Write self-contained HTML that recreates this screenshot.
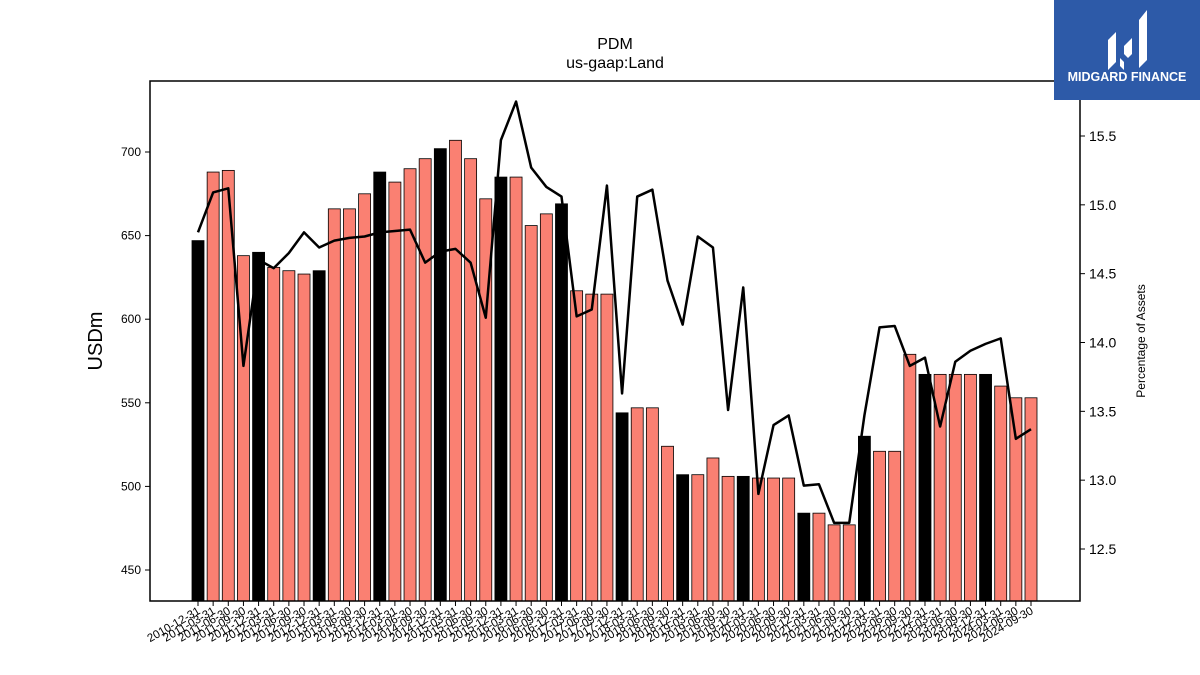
<!DOCTYPE html>
<html><head><meta charset="utf-8"><style>
body{margin:0;background:#fff;width:1200px;height:675px;overflow:hidden;font-family:"Liberation Sans","DejaVu Sans",sans-serif}
svg{position:absolute;left:0;top:0}
</style></head><body>
<svg id="chart" width="1200" height="675" xmlns="http://www.w3.org/2000/svg" font-family="Liberation Sans, DejaVu Sans, sans-serif">
<text x="615" y="49" font-size="16" text-anchor="middle">PDM</text>
<text x="615" y="68" font-size="16" text-anchor="middle">us-gaap:Land</text>
<g id="bars"></g>
<g id="line"></g>
<rect x="150" y="81" width="930" height="520" fill="none" stroke="#000" stroke-width="1.5"/>
<g id="yl"></g>
<g id="yr"></g>
<g id="xa"></g>
<text transform="translate(102,341) rotate(-90)" font-size="20" text-anchor="middle">USDm</text>
<text transform="translate(1145,341) rotate(-90)" font-size="12" text-anchor="middle">Percentage of Assets</text>
<g>
<rect x="1054" y="0" width="146" height="100" fill="#2d5aa8"/>
<path d="M1108 40 l8 -8 v30 l-8 8z M1124 46 l8 -8 v16 l-4 4 l-4 -4z M1139 20 l8 -10 v50 l-8 8z M1120 58 l4 4 v8 l-4 -4z" fill="#fff"/>
<text x="1127" y="81" font-size="12.5" font-weight="bold" fill="#fff" text-anchor="middle">MIDGARD FINANCE</text>
</g>
</svg>
<script>
const dates=["2010-12-31","2011-03-31","2011-06-30","2011-09-30","2011-12-31","2012-03-31","2012-06-30","2012-09-30","2012-12-31","2013-03-31","2013-06-30","2013-09-30","2013-12-31","2014-03-31","2014-06-30","2014-09-30","2014-12-31","2015-03-31","2015-06-30","2015-09-30","2015-12-31","2016-03-31","2016-06-30","2016-09-30","2016-12-31","2017-03-31","2017-06-30","2017-09-30","2017-12-31","2018-03-31","2018-06-30","2018-09-30","2018-12-31","2019-03-31","2019-06-30","2019-09-30","2019-12-31","2020-03-31","2020-06-30","2020-09-30","2020-12-31","2021-03-31","2021-06-30","2021-09-30","2021-12-31","2022-03-31","2022-06-30","2022-09-30","2022-12-31","2023-03-31","2023-06-30","2023-09-30","2023-12-31","2024-03-31","2024-06-30","2024-09-30"];
const landValues=[647,688,689,638,640,631,629,627,629,666,666,675,688,682,690,696,702,707,696,672,685,685,656,663,669,617,615,615,544,547,547,524,507,507,517,506,506,505,505,505,484,484,477,477,530,521,521,579,567,567,567,567,567,560,553,553];
const pctValues=[14.80,15.09,15.12,13.83,14.60,14.54,14.65,14.80,14.69,14.74,14.76,14.77,14.80,14.81,14.82,14.58,14.66,14.68,14.58,14.18,15.47,15.75,15.27,15.13,15.06,14.19,14.24,15.14,13.63,15.06,15.11,14.45,14.13,14.77,14.69,13.51,14.40,12.90,13.40,13.47,12.96,12.97,12.69,12.69,13.47,14.11,14.12,13.83,13.89,13.39,13.86,13.94,13.99,14.03,13.30,13.37];
const leftTicks=[450,500,550,600,650,700];
const rightTicks=[12.5,13.0,13.5,14.0,14.5,15.0,15.5];
const NS="http://www.w3.org/2000/svg";
const yL=v=>570-(v-450)*(418/250);
const yR=v=>136+(15.5-v)*(413/3);
const xS=i=>198+i*(833/(dates.length-1));
function mk(t,a,p){const e=document.createElementNS(NS,t);for(const k in a)e.setAttribute(k,a[k]);p.appendChild(e);return e;}
const bars=document.getElementById('bars');
landValues.forEach((v,i)=>{
 const black=dates[i].endsWith("12-31");
 const r=mk('rect',{x:xS(i)-6,y:yL(v),width:12,height:601-yL(v),fill:black?'#000':'#fa8072',stroke:'#000','stroke-width':0.8},bars);
 
 
});
const line=document.getElementById('line');
const pl=mk('polyline',{points:pctValues.map((v,i)=>xS(i)+','+yR(v)).join(' '),fill:'none',stroke:'#000','stroke-width':2.5,'stroke-linejoin':'round'},line);


const yl=document.getElementById('yl');
leftTicks.forEach(v=>{const y=yL(v);
 mk('line',{x1:145,x2:150,y1:y,y2:y,stroke:'#000'},yl);
 const t=mk('text',{x:141,y:y+4,'font-size':12,'text-anchor':'end'},yl);t.textContent=v;
 
 
});
const yr=document.getElementById('yr');
rightTicks.forEach(v=>{const y=yR(v);
 mk('line',{x1:1080,x2:1085,y1:y,y2:y,stroke:'#000'},yr);
 const t=mk('text',{x:1089,y:y+5,'font-size':14},yr);t.textContent=v.toFixed(1);
 
 
});
const xa=document.getElementById('xa');
dates.forEach((d,i)=>{const x=xS(i);
 mk('line',{x1:x,x2:x,y1:601,y2:606,stroke:'#000'},xa);
 const t=mk('text',{transform:`translate(${x+3},${613}) rotate(-30)`,'font-size':11.5,'text-anchor':'end'},xa);t.textContent=d;
 
 
});
</script>
</body></html>
